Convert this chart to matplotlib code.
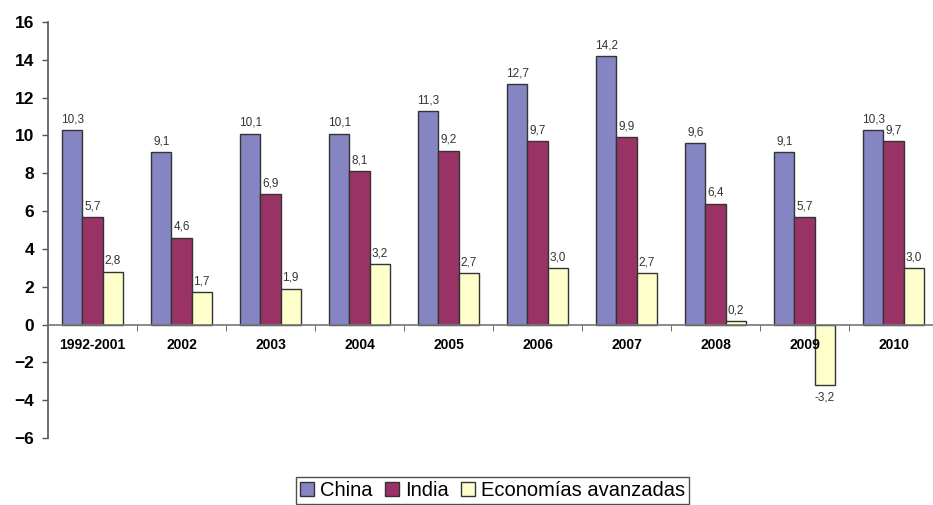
import numpy as np
import matplotlib
matplotlib.use("Agg")
import matplotlib.pyplot as plt
from matplotlib.ticker import FixedLocator

plt.rcParams['font.family'] = ['Liberation Sans', 'DejaVu Sans']

categories = ['1992-2001', '2002', '2003', '2004', '2005', '2006', '2007', '2008', '2009', '2010']
china = [10.3, 9.1, 10.1, 10.1, 11.3, 12.7, 14.2, 9.6, 9.1, 10.3]
india = [5.7, 4.6, 6.9, 8.1, 9.2, 9.7, 9.9, 6.4, 5.7, 9.7]
avanzadas = [2.8, 1.7, 1.9, 3.2, 2.7, 3.0, 2.7, 0.2, -3.2, 3.0]

series = [('China', china, '#8585C4'),
          ('India', india, '#993366'),
          ('Economías avanzadas', avanzadas, '#FFFFCC')]

fig = plt.figure(figsize=(9.33, 5.05), dpi=100)
ax = fig.add_axes([48 / 933, 1 - 438 / 505, 890 / 933, (438 - 22) / 505])

x = np.arange(len(categories))
w = 0.225
for i, (name, vals, col) in enumerate(series):
    pos = x + (i - 1) * w
    ax.bar(pos, vals, w, color=col, edgecolor='#333333', linewidth=1.0, label=name, zorder=2)
    for xp, v in zip(pos, vals):
        txt = f'{v:.1f}'.replace('.', ',')
        if v >= 0:
            ax.text(xp, v + 0.25, txt, ha='center', va='bottom', fontsize=8.5, color='#333333')
        else:
            ax.text(xp, v - 0.35, txt, ha='center', va='top', fontsize=8.5, color='#333333')

ax.set_xlim(-0.5, 9.5)
ax.set_ylim(-6, 16)
ax.set_yticks(range(-6, 17, 2))
ax.tick_params(axis='y', labelsize=12.5, direction='out', length=4, width=1, color='#555555', pad=6)
for lbl in ax.get_yticklabels():
    lbl.set_fontweight('bold')

ax.spines['top'].set_visible(False)
ax.spines['right'].set_visible(False)
ax.spines['bottom'].set_position(('data', 0))
ax.spines['bottom'].set_color('#777777')
ax.spines['left'].set_color('#555555')
ax.spines['bottom'].set_linewidth(1.2)
ax.spines['left'].set_linewidth(1.2)

ax.set_xticks(x)
ax.set_xticklabels(categories, fontsize=10, fontweight='bold')
ax.tick_params(axis='x', which='major', length=0, pad=10)
ax.xaxis.set_minor_locator(FixedLocator(np.arange(0.5, 9.5, 1.0)))
ax.tick_params(axis='x', which='minor', length=4, direction='out', color='#555555')
ax.xaxis.set_zorder(5)

leg = fig.legend(loc='upper center', bbox_to_anchor=(0.528, 1 - 477 / 505), ncol=3,
                 fontsize=14.5, frameon=True, fancybox=False, edgecolor='#222222',
                 handlelength=0.7, handleheight=0.7, handletextpad=0.3,
                 columnspacing=0.6, borderpad=0.2, borderaxespad=0)
leg.get_frame().set_linewidth(1.0)

fig.savefig('out.png', dpi=100)
